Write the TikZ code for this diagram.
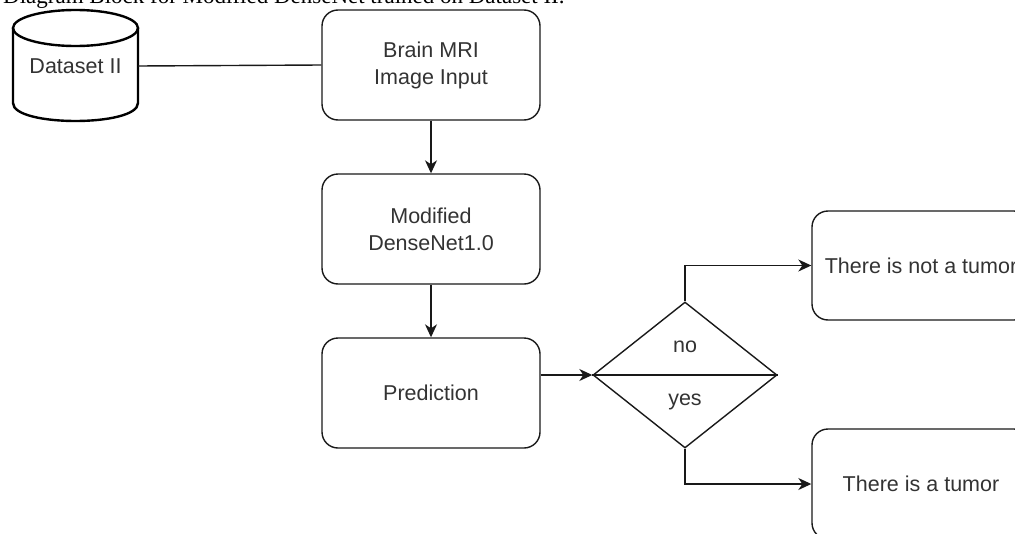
\documentclass[tikz,border=0pt]{standalone}
\usepackage{fontspec}
\setmainfont{Liberation Serif}
\setsansfont{Liberation Sans}
\usetikzlibrary{shapes.geometric,arrows.meta}

\begin{document}
\begin{tikzpicture}[x=1pt,y=-1pt,
  box/.style={draw=black!90, line width=1.4pt, rounded corners=16pt,
    minimum width=218pt, minimum height=110pt, align=center, text=black!80,
    font=\sffamily\fontsize{21.5}{27}\selectfont, inner sep=0pt},
  cyl/.style={draw=black, line width=2.4pt},
  lbl/.style={text=black!80, font=\sffamily\fontsize{21.5}{27}\selectfont, inner sep=0pt},
  link/.style={draw=black!90, line width=1.4pt},
  flow/.style={link, -{Stealth[length=13pt,width=12pt,inset=4pt]}}]

\useasboundingbox (0,0) rectangle (1015,533);
\clip (0,0) rectangle (1015,533);

% caption, partly cut by the top edge
\node[anchor=base west, inner sep=0pt, font=\rmfamily\fontsize{23}{23}\selectfont] (title)
  at (3,3.5) {Diagram Block for Modified DenseNet trained on Dataset II.};

% data store drawn as a cylinder
\draw[cyl, fill=white] (13,28) -- (13,103)
  .. controls (13,127) and (138,127) .. (138,103) -- (138,28);
\draw[cyl] (75.5,28) ellipse [x radius=62.5, y radius=18];
\node[lbl] (ds) at (75.5,66) {Dataset II};
\coordinate (dsR) at (138,66);

% processing chain
\node[box] (b1) at (431,65)  {Brain MRI\\Image Input};
\node[box] (b2) at (431,229) {Modified\\DenseNet1.0};
\node[box] (b3) at (431,393) {Prediction};

% decision
\node[diamond, draw=black!90, line width=1.4pt, minimum width=184pt,
  minimum height=146pt, inner sep=0pt] (d) at (685,375) {};
\draw[link] (d.west) -- (d.east);
\node[lbl] (no)  at (685,347) {no};
\node[lbl] (yes) at (685,402) {yes};

% outcomes
\node[box, minimum height=109pt] (b4) at (921,265.5) {There is not a tumor};
\node[box] (b5) at (921,484) {There is a tumor};

% connectors
\draw[link] (dsR) -- (b1.west);
\draw[flow] (b1.south) -- (b2.north);
\draw[flow] (b2.south) -- (b3.north);
\draw[flow] (d.west -| b3.east) -- (d.west);
\draw[flow] (d.north) |- (b4.west);
\draw[flow] (d.south) |- (b5.west);
\end{tikzpicture}
\end{document}
